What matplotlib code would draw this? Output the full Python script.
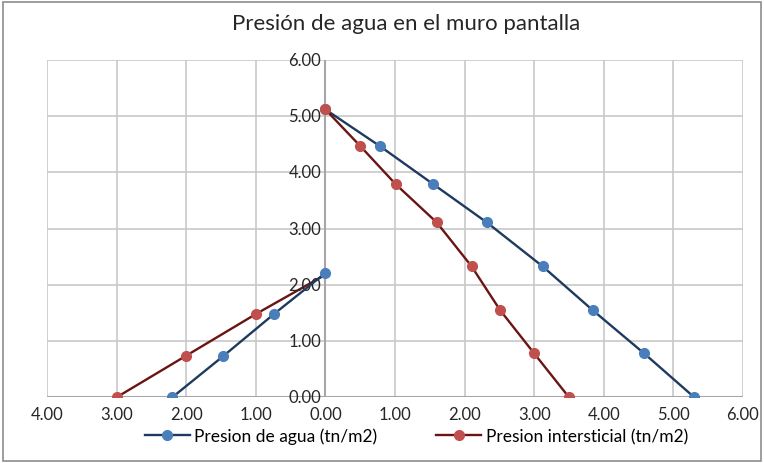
import matplotlib.pyplot as plt
import matplotlib.ticker as mticker
from matplotlib.patches import Rectangle

# water pressure on the diaphragm wall (left side drawn as negative x)
agua_left_x = [-2.20, -1.47, -0.74, 0.00]
agua_left_y = [0.00, 0.73, 1.48, 2.21]
agua_right_x = [0.00, 0.78, 1.55, 2.32, 3.12, 3.84, 4.58, 5.30]
agua_right_y = [5.12, 4.47, 3.79, 3.11, 2.33, 1.55, 0.78, 0.00]

inter_left_x = [-3.00, -2.00, -1.00, 0.00]
inter_left_y = [0.00, 0.74, 1.48, 2.18]
inter_right_x = [0.00, 0.50, 1.01, 1.60, 2.10, 2.51, 3.00, 3.50]
inter_right_y = [5.12, 4.47, 3.79, 3.11, 2.33, 1.55, 0.78, 0.00]

x_ticks = [-4, -3, -2, -1, 0, 1, 2, 3, 4, 5, 6]
y_ticks = [0, 1, 2, 3, 4, 5, 6]

title = "Presión de agua en el muro pantalla"
label_agua = "Presion de agua (tn/m2)"
label_inter = "Presion intersticial (tn/m2)"

plt.rcParams["font.family"] = ["Lato", "DejaVu Sans"]

blue_line, blue_mark = "#1f3a5f", "#4a7ebb"
red_line, red_mark = "#6b1414", "#c0504d"
grid_c = "#c8c8c8"

fig = plt.figure(figsize=(7.64, 4.64), dpi=100)
fig.patches.append(Rectangle((0.004, 0.004), 0.992, 0.99, transform=fig.transFigure,
                             fill=False, edgecolor="#8c8c8c", linewidth=1.2))
ax = fig.add_axes([0.0615, 0.1416, 0.911, 0.727])

mk = dict(marker="o", markersize=7, linewidth=1.7)

ax.plot(inter_left_x, inter_left_y, color=red_line, markerfacecolor=red_mark,
        markeredgecolor=red_mark, markevery=[0, 1, 2], zorder=3, **mk)
ax.plot(agua_left_x, agua_left_y, color=blue_line, markerfacecolor=blue_mark,
        markeredgecolor=blue_mark, zorder=4, **mk)
ax.plot(agua_right_x, agua_right_y, color=blue_line, markerfacecolor=blue_mark,
        markeredgecolor=blue_mark, zorder=4, label=label_agua, **mk)
ax.plot(inter_right_x, inter_right_y, color=red_line, markerfacecolor=red_mark,
        markeredgecolor=red_mark, zorder=5, label=label_inter, **mk)

ax.set_xlim(-4, 6)
ax.set_ylim(0, 6)
ax.set_xticks(x_ticks)
ax.set_yticks(y_ticks)
ax.xaxis.set_major_formatter(mticker.FuncFormatter(lambda v, p: f"{abs(v):.2f}"))
ax.yaxis.set_major_formatter(mticker.FuncFormatter(lambda v, p: f"{v:.2f}"))
ax.grid(True, color=grid_c, linewidth=1.2)
ax.set_axisbelow(True)
for s in ax.spines.values():
    s.set_visible(False)

# y axis drawn at x = 0, x axis at y = 0
ax.axvline(0, color="#a6a6a6", linewidth=1.5, zorder=2)
ax.axhline(0, color="#a6a6a6", linewidth=1.5, zorder=2)
ax.tick_params(length=0, labelsize=12, colors="#262626")
ax.tick_params(axis="x", pad=6)
ax.tick_params(axis="y", labelleft=False)
for y in y_ticks:
    ax.text(-0.06, y, f"{y:.2f}", ha="right", va="center", fontsize=12, color="#262626")

fig.text(0.532, 0.948, title, ha="center", va="center", fontsize=16, color="#262626")
fig.legend(loc="center", bbox_to_anchor=(0.545, 0.058), ncol=2, frameon=False,
           fontsize=12.5, handlelength=2.6, columnspacing=3.4, handletextpad=0.25)

fig.savefig("out.png", dpi=100)
